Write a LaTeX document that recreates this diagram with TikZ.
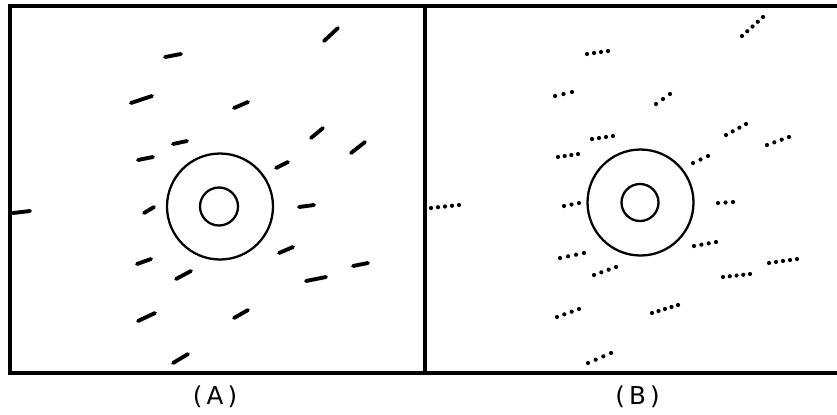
\documentclass[tikz,border=0pt]{standalone}
\usepackage{fontspec}
\setsansfont{DejaVu Sans}
\usetikzlibrary{calc}

\begin{document}
\begin{tikzpicture}[
        x=0.02cm, y=-0.02cm,
        box/.style={line width=1.8pt},
        ring/.style={line width=1.3pt},
        streak/.style={line width=2.2pt, line cap=round},
        lab/.style={font=\sffamily\fontsize{14}{16}\selectfont, inner sep=0pt}
    ]
        \useasboundingbox (0,0) rectangle (837,414);
        % frames
        \draw[box] (10,6) rectangle (425,373);
        \draw[box] (425,6) -- (837,6);
        \draw[box] (425,373) -- (837,373);
        % rings
        \draw[ring] (220,206.5) circle[radius=53];
        \draw[ring] (219,206.5) circle[radius=19];
        \draw[ring] (640.5,202.5) circle[radius=53];
        \draw[ring] (640,202.5) circle[radius=18.5];
        % (A) solid streaks
        \foreach \ax/\ay/\bx/\by in {324/41/338/28, 165/57/181/54, 131/103/152/96,
            234/108/248/102, 173/144/187/141, 138/160/153/157, 311/138/323/128,
            351/153/365/142, 276/168/288/162, 13/213/30/211, 144/213/154/207,
            299/207/314/205, 137/264/151/259, 279/253/293/247, 176/279/191/271,
            353/266/368/263, 306/281/326/277, 138/321/155/313, 234/318/248/310,
            173/363/188/354}
            \draw[streak] (\ax,\ay) -- (\bx,\by);
        % (B) dotted streaks
        \foreach \ax/\ay/\bx/\by/\n in {742/36/763/17/5, 587/54/608/51/4, 555/96/572/92/3,
            656/104/670/94/3, 592/139/613/136/4, 558/157/578/154/4, 726/135/746/124/4,
            767/145/789/137/4, 693/163/708/156/3, 431/208/459/205/5, 564/206/579/203/3,
            718/203/733/202/3, 560/258/584/253/4, 694/246/716/242/4, 594/275/616/267/4,
            769/263/797/259/5, 723/277/750/274/5, 557/317/579/309/4, 652/313/678/305/5,
            588/363/611/353/4}
            \foreach \k in {1,...,\n}
                \fill ($(\ax,\ay)!{(\k-1)/(\n-1)}!(\bx,\by)$) circle[radius=2.1];
        % labels
        \node[lab] (labA) at (215,397) {(\,A\,)};
        \node[lab] (labB) at (637.5,397) {(\,B\,)};
    \end{tikzpicture}
\end{document}
